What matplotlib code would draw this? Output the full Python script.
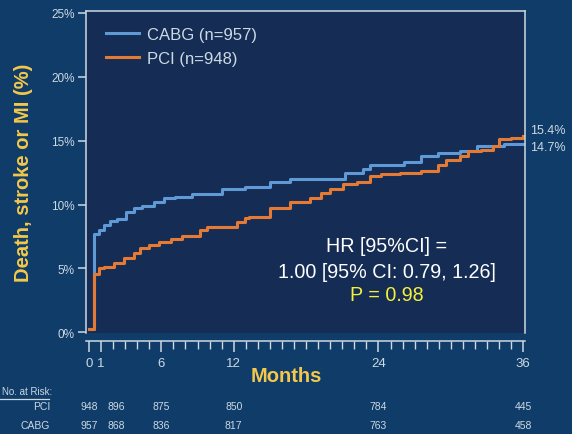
import numpy as np
import matplotlib.pyplot as plt
from matplotlib.lines import Line2D
from matplotlib.ticker import FixedLocator, MultipleLocator

plt.rcParams['font.family'] = ['Liberation Sans', 'DejaVu Sans']

# Kaplan-Meier style curves (months, %)
cabg_t = [0, 0.4, 0.8, 1.25, 1.7, 2.3, 3.1, 3.75, 4.4, 5.4, 6.25, 7.1, 8.5, 11.0,
          12.9, 15.0, 16.7, 21.2, 22.7, 23.3, 26.1, 27.5, 28.9, 30.8, 32.2, 34.4, 36]
cabg_p = [0.3, 7.7, 8.0, 8.4, 8.7, 8.9, 9.45, 9.7, 9.9, 10.2, 10.5, 10.6, 10.8, 11.25,
          11.4, 11.8, 12.0, 12.5, 12.8, 13.1, 13.3, 13.8, 14.0, 14.2, 14.6, 14.75, 14.75]
pci_t = [0, 0.4, 0.8, 1.25, 2.1, 2.9, 3.75, 4.2, 5.0, 5.8, 6.8, 7.7, 9.2, 9.75, 12.25,
         12.9, 13.3, 15.0, 16.7, 18.3, 19.2, 20.0, 21.1, 22.2, 23.3, 24.2, 25.8, 27.5,
         28.9, 29.6, 30.8, 31.4, 32.5, 33.5, 34.0, 35.0, 36]
pci_p = [0.3, 4.6, 5.0, 5.1, 5.4, 5.8, 6.2, 6.6, 6.8, 7.1, 7.3, 7.55, 8.0, 8.25, 8.6,
         8.95, 9.0, 9.7, 10.2, 10.5, 10.9, 11.25, 11.6, 11.8, 12.2, 12.4, 12.5, 12.6,
         13.1, 13.5, 13.8, 14.2, 14.3, 14.6, 15.1, 15.2, 15.4]

y_ticks = [0, 5, 10, 15, 20, 25]
x_ticks = [0, 1, 6, 12, 24, 36]

risk_months = [0, 1, 6, 12, 24, 36]
risk_pci = [948, 896, 875, 850, 784, 445]
risk_cabg = [957, 868, 836, 817, 763, 458]
end_labels = ['15.4%', '14.7%']

W, H = 572, 435
bg = '#0f3c68'
panel = '#152d55'
light = '#cdd9e3'
yellow = '#f3c84b'
blue = '#5f9ad6'
orange = '#e57a34'

fig = plt.figure(figsize=(W / 100, H / 100), dpi=100, facecolor=bg)
ax = fig.add_axes([86 / W, 1 - 334 / H, 439 / W, 322 / H], facecolor=panel)

ax.step(cabg_t, cabg_p, where='post', color=blue, lw=2.2, label='CABG (n=957)')
ax.step(pci_t, pci_p, where='post', color=orange, lw=2.2, label='PCI (n=948)')

ax.set_xlim(-0.25, 36.15)
ax.set_ylim(-0.05, 25.15)

for s in ['left', 'top', 'right', 'bottom']:
    ax.spines[s].set_color(light)
    ax.spines[s].set_linewidth(1.1)
ax.spines['bottom'].set_position(('outward', 6))

ax.set_yticks(y_ticks)
ax.set_yticklabels([f'{v}%' for v in y_ticks])
ax.xaxis.set_major_locator(FixedLocator(x_ticks))
ax.xaxis.set_minor_locator(MultipleLocator(1))
ax.set_xticklabels([str(v) for v in x_ticks])
ax.tick_params(axis='y', colors=light, labelsize=8.5, length=6, width=1.1, pad=2)
ax.tick_params(axis='x', which='major', colors=light, labelsize=9.5, length=8, width=1.1, pad=3)
ax.tick_params(axis='x', which='minor', colors=light, length=6, width=1.0)
for lab in ax.get_xticklabels() + ax.get_yticklabels():
    lab.set_color(light)

ax.set_ylabel('Death, stroke or MI (%)', color=yellow, fontsize=14.5, fontweight='bold', labelpad=13)
fig.text(286 / W, 1 - 377 / H, 'Months', color=yellow, fontsize=14.5,
         fontweight='bold', ha='center', va='center')

leg = ax.legend(loc='upper left', bbox_to_anchor=(106 / W, 1 - 28 / H),
                bbox_transform=fig.transFigure, frameon=False, fontsize=12,
                handlelength=2.0, handletextpad=0.45, labelspacing=0.55,
                borderpad=0, borderaxespad=0)
for t in leg.get_texts():
    t.set_color(light)

# hazard ratio box
cx = 387 / W
fig.text(cx, 1 - 247 / H, 'HR [95%CI] =', color='white', fontsize=14.2, ha='center', va='center')
fig.text(cx, 1 - 272 / H, '1.00 [95% CI: 0.79, 1.26]', color='white', fontsize=14.2,
         ha='center', va='center')
fig.text(cx, 1 - 296 / H, 'P = 0.98', color='#f5f03a', fontsize=14.2, ha='center', va='center')

# end-of-curve labels
fig.text(530 / W, 1 - 131 / H, end_labels[0], color=light, fontsize=9, va='center')
fig.text(530 / W, 1 - 148 / H, end_labels[1], color=light, fontsize=9, va='center')

# number at risk table
fig.text(2 / W, 1 - 392 / H, 'No. at Risk:', color=light, fontsize=7, ha='left', va='center')
fig.add_artist(Line2D([0, 49 / W], [1 - 400 / H, 1 - 400 / H], color=light, lw=0.9))
fig.text(50 / W, 1 - 407 / H, 'PCI', color=light, fontsize=7.5, ha='right', va='center')
fig.text(50 / W, 1 - 426 / H, 'CABG', color=light, fontsize=7.5, ha='right', va='center')
shift = [0, 1.25, 0, 0, 0, 0]  # second column is nudged right in the original
for m, dx, p, c in zip(risk_months, shift, risk_pci, risk_cabg):
    xf = fig.transFigure.inverted().transform(ax.transData.transform((m + dx, 0)))[0]
    fig.text(xf, 1 - 407 / H, str(p), color=light, fontsize=7.5, ha='center', va='center')
    fig.text(xf, 1 - 426 / H, str(c), color=light, fontsize=7.5, ha='center', va='center')

fig.savefig('out.png', dpi=100, facecolor=bg)
